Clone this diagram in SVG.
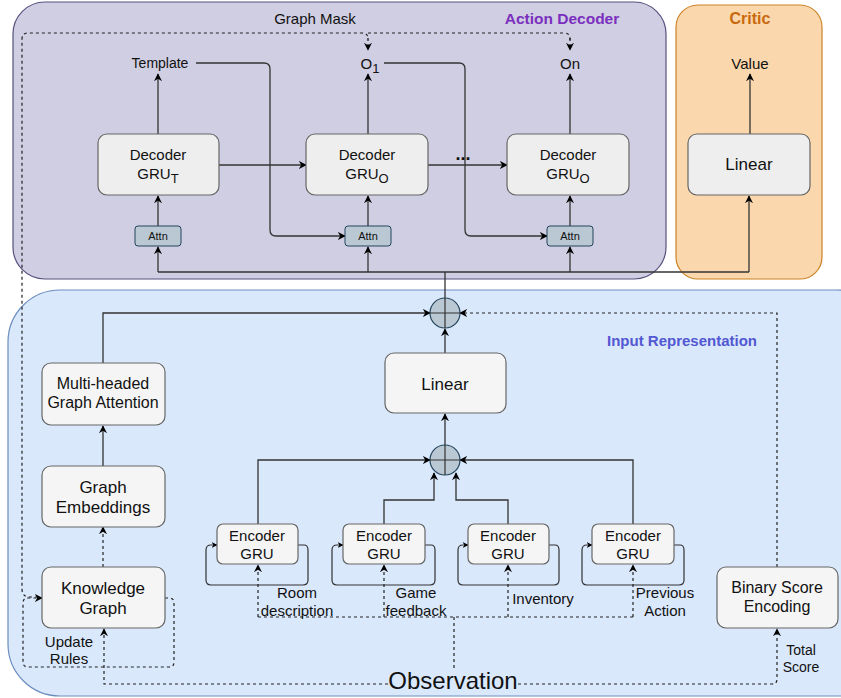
<svg xmlns="http://www.w3.org/2000/svg" width="841" height="698" viewBox="0 0 841 698">
<defs>
<marker id="ah" viewBox="0 0 10 10" refX="9" refY="5" markerWidth="8" markerHeight="8" orient="auto" markerUnits="userSpaceOnUse">
<path d="M0,0 L10,5 L0,10 L3,5 z" fill="#000"/>
</marker>
<marker id="ahs" viewBox="0 0 10 10" refX="9" refY="5" markerWidth="6" markerHeight="6" orient="auto" markerUnits="userSpaceOnUse">
<path d="M0,0 L10,5 L0,10 L3,5 z" fill="#000"/>
</marker>
<style>
text{font-family:"Liberation Sans",Arial,sans-serif;fill:#111;text-anchor:middle}
.box{fill:#f5f5f5;stroke:#666;stroke-width:1.2}
.dbox{fill:#eeeeee;stroke:#666;stroke-width:1.2}
.attn{fill:#bac8d3;stroke:#23445d;stroke-width:1}
.ln{fill:none;stroke:#333;stroke-width:1.3}
.arr{fill:none;stroke:#333;stroke-width:1.3;marker-end:url(#ah)}
.arrs{fill:none;stroke:#333;stroke-width:1.2;marker-end:url(#ahs)}
.dash{fill:none;stroke:#222;stroke-width:1.2;stroke-dasharray:3 3}
.darr{fill:none;stroke:#222;stroke-width:1.2;stroke-dasharray:3 3;marker-end:url(#ah)}
.t14{font-size:14px}
.t15{font-size:15px}
.t16{font-size:16px}
.t17{font-size:17px}
.sub{font-size:13px}
</style>
</defs>

<g id="containers">
<rect id="action-decoder" x="13" y="2" width="653" height="277" rx="32" fill="#d0cee2" stroke="#56517e" stroke-width="1.2"/>
<rect id="critic" x="676" y="5" width="146" height="274" rx="22" fill="#fad7ac" stroke="#cc8326" stroke-width="1.2"/>
<rect id="input-rep" x="8" y="290" width="880" height="406" rx="52" fill="#dae8fc" stroke="#6c8ebf" stroke-width="1.2"/>
<text x="562" y="24" font-size="15.5" font-weight="bold" style="fill:#7b2fbf">Action Decoder</text>
<text x="750" y="24" font-size="16" font-weight="bold" style="fill:#c8690f">Critic</text>
<text x="682" y="346" font-size="15" font-weight="bold" style="fill:#5257d2">Input Representation</text>
</g>

<g id="connectors">
<!-- decoder outputs -->
<path class="arr" d="M158,134 V74"/>
<path class="arr" d="M368,134 V74"/>
<path class="arr" d="M570,134 V74"/>
<path class="arr" d="M750,134 V74"/>
<!-- template / O1 to attn -->
<path class="arr" d="M196,63 H264 Q270,63 270,69 V230 Q270,236 276,236 H345"/>
<path class="arr" d="M384,63 H459 Q465,63 465,69 V230 Q465,236 471,236 H547"/>
<!-- decoder chain -->
<path class="arr" d="M219,165 H306"/>
<path class="arr" d="M428,165 H507"/>
<!-- attn to decoders -->
<path class="arr" d="M158,226 V196"/>
<path class="arr" d="M368,226 V196"/>
<path class="arr" d="M570,226 V196"/>
<!-- bus -->
<path class="ln" d="M158,272 H749"/>
<path class="ln" d="M445,298 V272"/>
<path class="arr" d="M158,272 V247"/>
<path class="arr" d="M368,272 V247"/>
<path class="arr" d="M570,272 V247"/>
<path class="arr" d="M749,272 V196"/>
<!-- graph mask -->
<path class="dash" d="M38,597 H30 Q22,597 22,589 V39 Q22,33 28,33 H362 Q368,33 368,39 V40"/>
<path class="darr" d="M368,38 V50"/>
<path class="dash" d="M368,33 H564 Q570,33 570,39 V40"/>
<path class="darr" d="M570,38 V50"/>
<!-- input representation -->
<path class="arr" d="M103,363 V313 H430"/>
<path class="darr" d="M777,567 V313 H460"/>
<path class="arr" d="M445,353 V329"/>
<path class="arr" d="M445,445 V414"/>
<path class="arr" d="M103,466 V426"/>
<path class="darr" d="M103,567 V527"/>
<!-- encoders to plus -->
<path class="arr" d="M258,524 V460 H430"/>
<path class="arr" d="M633,524 V460 H460"/>
<path class="arr" d="M384,524 V500 H434 V473"/>
<path class="arr" d="M508,524 V500 H456 V473"/>
<!-- encoder self loops -->
<path class="arrs" d="M298,545 H304 Q308,545 308,550 V580 Q308,585 303,585 H211 Q206,585 206,580 V550 Q206,545 211,545 H217"/>
<path class="arrs" d="M425,545 H431 Q435,545 435,550 V580 Q435,585 430,585 H337 Q332,585 332,580 V550 Q332,545 337,545 H343"/>
<path class="arrs" d="M549,545 H555 Q559,545 559,550 V580 Q559,585 554,585 H463 Q458,585 458,580 V550 Q458,545 463,545 H468"/>
<path class="arrs" d="M674,545 H680 Q684,545 684,550 V580 Q684,585 679,585 H587 Q582,585 582,580 V550 Q582,545 587,545 H592"/>
<!-- observation distribution -->
<path class="dash" d="M258,617 H633"/>
<path class="darr" d="M258,617 V565"/>
<path class="darr" d="M384,617 V565"/>
<path class="darr" d="M508,617 V565"/>
<path class="darr" d="M633,617 V565"/>
<path class="dash" d="M454,617 V668"/>
<path class="darr" d="M388,684 H104 V629"/>
<path class="darr" d="M518,684 H772 Q777,684 777,679 V629"/>
<!-- update rules loop -->
<path class="darr" d="M165,598 H169 Q174,598 174,603 V662 Q174,667 169,667 H28 Q23,667 23,662 V603 Q23,598 28,598 H42"/>
</g>

<g id="plus-top">
<circle cx="445" cy="313" r="15" fill="#bac8d3" stroke="#23445d" stroke-width="1.2"/>
<path d="M430,313 H460 M445,298 V328" stroke="#333" stroke-width="1.2"/>
</g>
<g id="plus-bottom">
<circle cx="445" cy="460" r="15" fill="#bac8d3" stroke="#23445d" stroke-width="1.2"/>
<path d="M430,460 H460 M445,445 V475" stroke="#333" stroke-width="1.2"/>
</g>

<g id="dec-gru-t">
<rect class="dbox" x="98" y="134" width="121" height="61" rx="9"/>
<text class="t15" x="158" y="160">Decoder</text>
<text class="t15" x="158" y="179">GRU<tspan class="sub" dy="4">T</tspan></text>
</g>
<g id="dec-gru-o1">
<rect class="dbox" x="306" y="134" width="122" height="61" rx="9"/>
<text class="t15" x="367" y="160">Decoder</text>
<text class="t15" x="367" y="179">GRU<tspan class="sub" dy="4">O</tspan></text>
</g>
<g id="dec-gru-o2">
<rect class="dbox" x="507" y="134" width="122" height="61" rx="9"/>
<text class="t15" x="568" y="160">Decoder</text>
<text class="t15" x="568" y="179">GRU<tspan class="sub" dy="4">O</tspan></text>
</g>
<g id="dots"><text x="463" y="160" font-size="18" font-weight="bold">...</text></g>
<g id="attn1"><rect class="attn" x="135" y="226" width="46" height="20" rx="3"/><text x="158" y="240" font-size="11">Attn</text></g>
<g id="attn2"><rect class="attn" x="345" y="226" width="46" height="20" rx="3"/><text x="368" y="240" font-size="11">Attn</text></g>
<g id="attn3"><rect class="attn" x="547" y="226" width="46" height="20" rx="3"/><text x="570" y="240" font-size="11">Attn</text></g>
<g id="template"><text class="t14" x="160" y="68">Template</text></g>
<g id="o1"><text class="t15" x="370" y="69">O<tspan class="sub" dy="4">1</tspan></text></g>
<g id="on"><text class="t15" x="570" y="69">On</text></g>
<g id="graph-mask"><text class="t15" x="315" y="24">Graph Mask</text></g>
<g id="value"><text class="t15" x="750" y="69">Value</text></g>
<g id="critic-linear">
<rect class="dbox" x="688" y="134" width="122" height="61" rx="9"/>
<text class="t17" x="749" y="170">Linear</text>
</g>

<g id="linear">
<rect class="box" x="385" y="353" width="121" height="60" rx="9"/>
<text class="t17" x="445" y="390">Linear</text>
</g>
<g id="mga">
<rect class="box" x="42" y="363" width="123" height="62" rx="9"/>
<text class="t16" x="103" y="389">Multi-headed</text>
<text class="t16" x="103" y="408">Graph Attention</text>
</g>
<g id="graph-embeddings">
<rect class="box" x="42" y="466" width="123" height="61" rx="9"/>
<text class="t17" x="103" y="493">Graph</text>
<text class="t17" x="103" y="513">Embeddings</text>
</g>
<g id="knowledge-graph">
<rect class="box" x="42" y="567" width="123" height="61" rx="9"/>
<text class="t17" x="103" y="594">Knowledge</text>
<text class="t17" x="103" y="614">Graph</text>
</g>
<g id="update-rules">
<text class="t15" x="69" y="647">Update</text>
<text class="t15" x="69" y="664">Rules</text>
</g>
<g id="enc1"><rect class="box" x="217" y="524" width="81" height="40" rx="6"/><text class="t15" x="257" y="541">Encoder</text><text class="t15" x="257" y="559">GRU</text></g>
<g id="enc2"><rect class="box" x="343" y="524" width="82" height="40" rx="6"/><text class="t15" x="384" y="541">Encoder</text><text class="t15" x="384" y="559">GRU</text></g>
<g id="enc3"><rect class="box" x="468" y="524" width="81" height="40" rx="6"/><text class="t15" x="508" y="541">Encoder</text><text class="t15" x="508" y="559">GRU</text></g>
<g id="enc4"><rect class="box" x="592" y="524" width="82" height="40" rx="6"/><text class="t15" x="633" y="541">Encoder</text><text class="t15" x="633" y="559">GRU</text></g>
<g id="lbl-room"><text class="t15" x="297" y="598">Room</text><text class="t15" x="297" y="616">description</text></g>
<g id="lbl-game"><text class="t15" x="416" y="598">Game</text><text class="t15" x="416" y="616">feedback</text></g>
<g id="lbl-inv"><text class="t15" x="543" y="604">Inventory</text></g>
<g id="lbl-prev"><text class="t15" x="665" y="598">Previous</text><text class="t15" x="665" y="616">Action</text></g>
<g id="binary-score">
<rect class="box" x="717" y="567" width="121" height="61" rx="9"/>
<text class="t16" x="777" y="593">Binary Score</text>
<text class="t16" x="777" y="612">Encoding</text>
</g>
<g id="total-score"><text class="t14" x="801" y="655">Total</text><text class="t14" x="801" y="672">Score</text></g>
<g id="observation"><text x="453" y="689" font-size="24">Observation</text></g>
</svg>
